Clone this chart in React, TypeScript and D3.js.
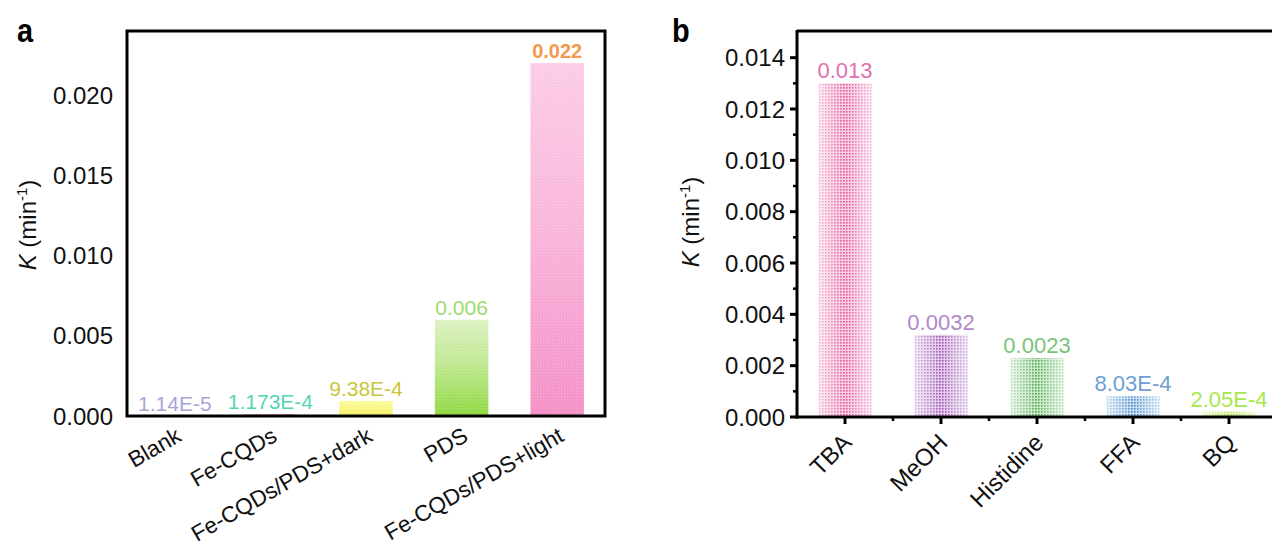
import React from 'react';
import * as d3 from 'd3';

// panel a data
const catsA = ['Blank', 'Fe-CQDs', 'Fe-CQDs/PDS+dark', 'PDS', 'Fe-CQDs/PDS+light'];
const valsA = [1.14e-5, 1.173e-4, 9.38e-4, 0.006, 0.022];
const labelsA = ['1.14E-5', '1.173E-4', '9.38E-4', '0.006', '0.022'];
const ticksA = [0, 0.005, 0.01, 0.015, 0.02];
const labelColorsA = ['#aaa5d6', '#55d4b4', '#c9c63a', '#9cdc6c', '#f29a50'];
const barTopA = ['#cdc9ea', '#f7a6d0', '#fbf99c', '#dbf1bf', '#fccbe6'];
const barBotA = ['#a9a4d4', '#e667a8', '#f4ef5e', '#8ed83e', '#f48fc6'];

// panel b data
const catsB = ['TBA', 'MeOH', 'Histidine', 'FFA', 'BQ'];
const valsB = [0.013, 0.0032, 0.0023, 8.03e-4, 2.05e-4];
const labelsB = ['0.013', '0.0032', '0.0023', '8.03E-4', '2.05E-4'];
const ticksB = [0, 0.002, 0.004, 0.006, 0.008, 0.01, 0.012, 0.014];
const minorB = [0.001, 0.003, 0.005, 0.007, 0.009, 0.011, 0.013];
const labelColorsB = ['#e070b0', '#b088c8', '#78c478', '#6f9fd2', '#a6e84c'];
const barMidB = ['#e4509a', '#9a4cb0', '#46a846', '#3c84c6', '#a4dc3a'];
const barEdgeB = ['#f6c4de', '#dcc0e6', '#c4e8c4', '#c4dcf0', '#e0f4b0'];

const font = '"Liberation Sans", Arial, sans-serif';

export default function App() {
  const width = 1272;
  const height = 554;

  const xA = d3.scaleBand().domain(catsA).range([127, 605]).paddingInner(0).paddingOuter(0);
  const yA = d3.scaleLinear().domain([0, 0.024]).range([416, 31]);
  const bwA = xA.bandwidth() * 0.56;

  const xB = d3.scaleBand().domain(catsB).range([797, 1277]).paddingInner(0).paddingOuter(0);
  const yB = d3.scaleLinear().domain([0, 0.015]).range([417, 32]);
  const bwB = xB.bandwidth() * 0.56;

  const yLabel = (x: number, y: number) => (
    <text transform={`translate(${x},${y}) rotate(-90)`} textAnchor="middle" fontFamily={font} fontSize={24} fill="#111">
      <tspan fontStyle="italic">K</tspan>
      <tspan> (min</tspan>
      <tspan dy={-9} fontSize={15}>-1</tspan>
      <tspan dy={9}>)</tspan>
    </text>
  );

  return (
    <svg width={width} height={height} style={{ position: 'absolute', left: 0, top: 0, background: '#fff' }}>
      <defs>
        <pattern id="dots" width={3} height={3} patternUnits="userSpaceOnUse">
          <rect x={0} y={0} width={1.6} height={1.6} fill="#fff" />
        </pattern>
        <mask id="dotMask" maskUnits="userSpaceOnUse" x={0} y={0} width={width} height={height}>
          <rect x={0} y={0} width={width} height={height} fill="url(#dots)" />
        </mask>
        <pattern id="dotsLight" width={3} height={3} patternUnits="userSpaceOnUse">
          <rect x={0} y={0} width={1.5} height={1.5} fill="#fff" opacity={0.18} />
        </pattern>
        {catsA.map((c, i) => (
          <linearGradient key={c} id={`ga${i}`} x1="0" y1="0" x2="0" y2="1">
            <stop offset="0" stopColor={barTopA[i]} />
            <stop offset="0.45" stopColor={d3.interpolateRgb(barTopA[i], barBotA[i])(0.35)} />
            <stop offset="1" stopColor={barBotA[i]} />
          </linearGradient>
        ))}
        {catsB.map((c, i) => (
          <linearGradient key={c} id={`gb${i}`} x1="0" y1="0" x2="1" y2="0">
            <stop offset="0" stopColor={barEdgeB[i]} />
            <stop offset="0.5" stopColor={barMidB[i]} />
            <stop offset="1" stopColor={barEdgeB[i]} />
          </linearGradient>
        ))}
      </defs>

      {/* panel a */}
      <text transform="translate(17,42) scale(0.85,1)" fontFamily={font} fontWeight="bold" fontSize={34}>a</text>
      {catsA.map((c, i) => {
        const x = (xA(c) as number) + xA.bandwidth() / 2 - bwA / 2;
        const y = yA(valsA[i]);
        const h = yA(0) - y;
        return (
          <g key={c}>
            <rect x={x} y={y} width={bwA} height={h} fill={`url(#ga${i})`} />
            <rect x={x} y={y} width={bwA} height={h} fill="url(#dotsLight)" />
          </g>
        );
      })}
      {catsA.map((c, i) => (
        <text key={c} x={(xA(c) as number) + xA.bandwidth() / 2} y={yA(valsA[i]) - 5} textAnchor="middle"
          fontFamily={font} fontSize={i === 4 ? 20 : 21} fontWeight={i === 4 ? 'bold' : 'normal'} fill={labelColorsA[i]}>
          {labelsA[i]}
        </text>
      ))}
      <rect x={127} y={31} width={478} height={385} fill="none" stroke="#000" strokeWidth={3} />
      {ticksA.map(t => (
        <text key={t} x={113} y={yA(t)} dy="0.36em" textAnchor="end" fontFamily={font} fontSize={24} fill="#111">
          {d3.format('.3f')(t)}
        </text>
      ))}
      {catsA.map(c => {
        const cx = (xA(c) as number) + xA.bandwidth() / 2;
        return (
          <text key={c} transform={`translate(${cx + 8},${440}) rotate(-30)`} textAnchor="end" fontFamily={font} fontSize={22.5} fill="#111">
            {c}
          </text>
        );
      })}
      {yLabel(36, 225)}

      {/* panel b */}
      <text transform="translate(672,42) scale(0.85,1)" fontFamily={font} fontWeight="bold" fontSize={34}>b</text>
      {catsB.map((c, i) => {
        const x = (xB(c) as number) + xB.bandwidth() / 2 - bwB / 2;
        const y = yB(valsB[i]);
        const h = yB(0) - y;
        return (
          <g key={c}>
            <rect x={x} y={y} width={bwB} height={h} fill={`url(#gb${i})`} opacity={0.3} />
            <rect x={x} y={y} width={bwB} height={h} fill={`url(#gb${i})`} mask="url(#dotMask)" />
          </g>
        );
      })}
      {catsB.map((c, i) => (
        <text key={c} x={(xB(c) as number) + xB.bandwidth() / 2} y={yB(valsB[i]) - 5} textAnchor="middle"
          fontFamily={font} fontSize={22} fill={labelColorsB[i]}>
          {labelsB[i]}
        </text>
      ))}
      <line x1={797} x2={1272} y1={31} y2={31} stroke="#000" strokeWidth={3} />
      <line x1={797} x2={797} y1={30} y2={418.5} stroke="#000" strokeWidth={3} />
      <line x1={795.5} x2={1272} y1={417} y2={417} stroke="#000" strokeWidth={3} />
      {ticksB.map(t => (
        <g key={t}>
          <line x1={790} x2={797} y1={yB(t)} y2={yB(t)} stroke="#000" strokeWidth={3} />
          <text x={785} y={yB(t)} dy="0.36em" textAnchor="end" fontFamily={font} fontSize={24} fill="#111">
            {d3.format('.3f')(t)}
          </text>
        </g>
      ))}
      {minorB.map(t => (
        <line key={t} x1={793} x2={797} y1={yB(t)} y2={yB(t)} stroke="#000" strokeWidth={2.5} />
      ))}
      {catsB.map((c, i) => {
        const cx = (xB(c) as number) + xB.bandwidth() / 2;
        const edge = (xB(c) as number);
        return (
          <g key={c}>
            <line x1={cx} x2={cx} y1={417} y2={424} stroke="#000" strokeWidth={3} />
            {i > 0 && <line x1={edge} x2={edge} y1={417} y2={421} stroke="#000" strokeWidth={2.5} />}
            <text transform={`translate(${cx + 8},${444}) rotate(-45)`} textAnchor="end" fontFamily={font} fontSize={24} fill="#111">
              {c}
            </text>
          </g>
        );
      })}
      {yLabel(699, 222)}
    </svg>
  );
}
